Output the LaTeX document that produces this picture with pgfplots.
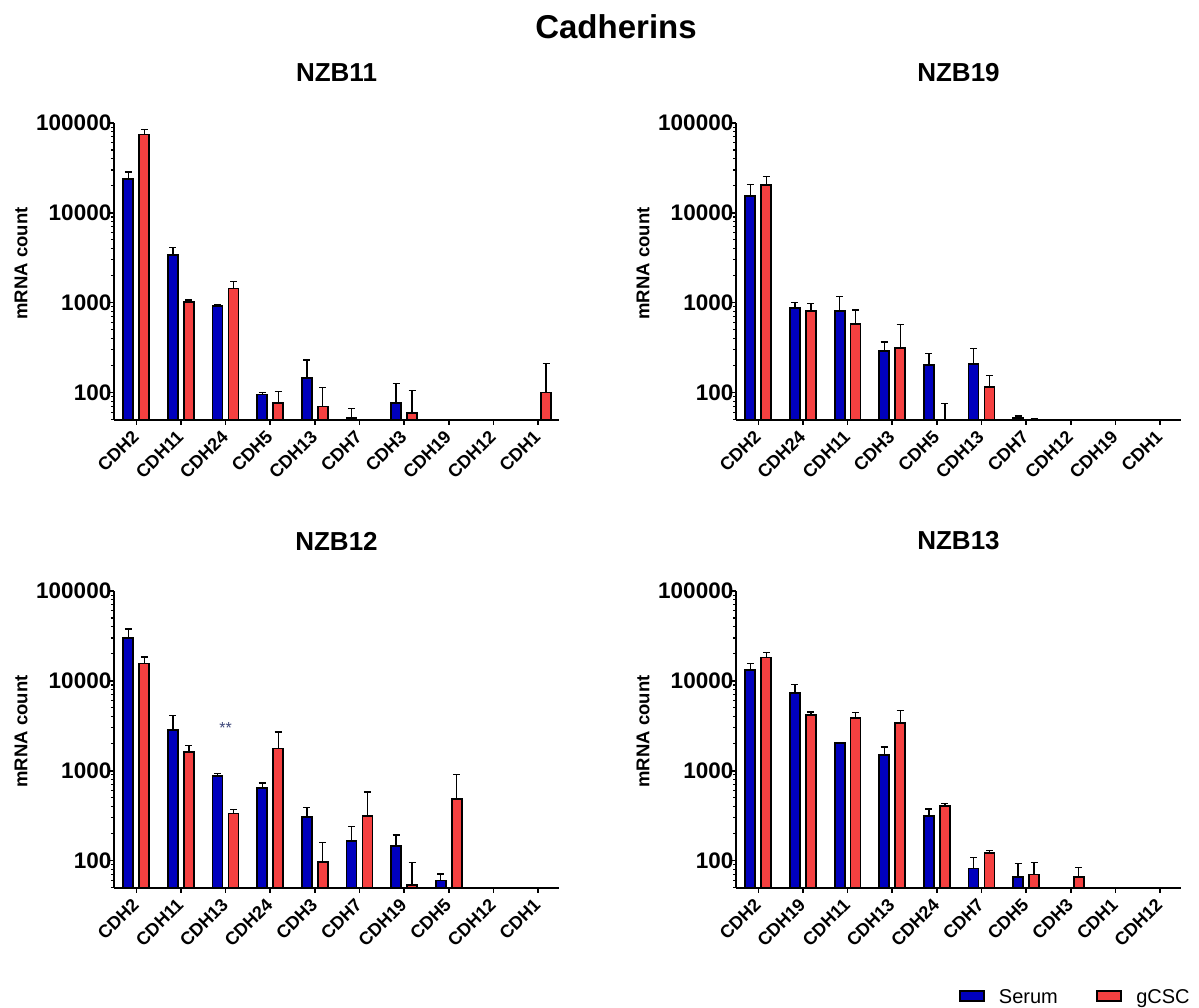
\documentclass[border=0pt]{standalone}
\usepackage{pgfplots}
\pgfplotsset{compat=1.18}
\usepackage{fontspec}
\setmainfont{Liberation Sans}
\definecolor{serum}{RGB}{0,0,190}
\definecolor{gcsc}{RGB}{245,64,64}
\definecolor{starcol}{RGB}{60,70,120}

\pgfplotsset{every axis/.append style={
    scale only axis, width=445pt, height=297pt,
    ymin=49.5, ymax=100000,
    xmin=-0.5, xmax=9.47,
    axis lines=left, axis line style={-, line width=2pt},
    xtick={0,...,9},
    ytick={100,1000,10000,100000}, yticklabels={100,1000,10000,100000},
    minor ytick={50,60,70,80,90,200,300,400,500,600,700,800,900,2000,3000,4000,5000,6000,7000,8000,9000,20000,30000,40000,50000,60000,70000,80000,90000},
    tick align=outside, major tick length=5pt, minor tick length=3pt,
    major tick style={black, line width=1.6pt},
    minor tick style={black, line width=1.1pt},
    yticklabel style={font=\fontsize{22.5}{22.5}\selectfont\bfseries, inner sep=0.5pt},
    yticklabel shift=-3pt,
    xticklabel style={font=\fontsize{18}{18}\selectfont\bfseries, rotate=45, anchor=east, inner sep=1pt},
    xticklabel shift=8pt,
    title style={font=\fontsize{26}{26}\selectfont\bfseries, at={(0.5,1)}, anchor=center, yshift=44pt},
    ylabel={mRNA count},
    ylabel style={font=\fontsize{18.5}{18.5}\selectfont\bfseries, at={(axis description cs:-0.209,0.527)}, anchor=center},
    axis on top,
}}

\begin{document}
\begin{tikzpicture}[x=1pt,y=1pt]
\useasboundingbox (0,0) rectangle (1199,1007);
\node[font=\fontsize{33}{33}\selectfont\bfseries] at (616,980) {Cadherins};

% NZB11
\begin{semilogyaxis}[at={(114pt,587pt)}, anchor=south west, title={NZB11},
  xticklabels={CDH2,CDH11,CDH24,CDH5,CDH13,CDH7,CDH3,CDH19,CDH12,CDH1}]
\addplot[ybar, bar width=10pt, bar shift=0pt, fill=serum, draw=black, line width=1.8pt,
  error bars/.cd, y dir=plus, y explicit, error bar style={black, line width=1.3pt}, error mark options={black, mark size=3.5pt, line width=1.3pt, rotate=90}]
  table[row sep=\\, x expr=\thisrow{x}-0.179, y=y, y error=e] {
x y e \\ 0 23900 4500 \\ 1 3370 710 \\ 2 918 22 \\ 3 95 5 \\ 4 144 87 \\ 5 52 14 \\ 6 77 50 \\
};
\addplot[ybar, bar width=10pt, bar shift=0pt, fill=gcsc, draw=black, line width=1.8pt,
  error bars/.cd, y dir=plus, y explicit, error bar style={black, line width=1.3pt}, error mark options={black, mark size=3.5pt, line width=1.3pt, rotate=90}]
  table[row sep=\\, x expr=\thisrow{x}+0.179, y=y, y error=e] {
x y e \\ 0 74600 10400 \\ 1 1026 44 \\ 2 1437 283 \\ 3 77 26 \\ 4 70 44 \\ 6 59 47 \\ 9 100 111 \\
};
\end{semilogyaxis}

% NZB19
\begin{semilogyaxis}[at={(736pt,587pt)}, anchor=south west, title={NZB19},
  xticklabels={CDH2,CDH24,CDH11,CDH3,CDH5,CDH13,CDH7,CDH12,CDH19,CDH1}]
\addplot[ybar, bar width=10pt, bar shift=0pt, fill=serum, draw=black, line width=1.8pt,
  error bars/.cd, y dir=plus, y explicit, error bar style={black, line width=1.3pt}, error mark options={black, mark size=3.5pt, line width=1.3pt, rotate=90}]
  table[row sep=\\, x expr=\thisrow{x}-0.179, y=y, y error=e] {
x y e \\ 0 15300 5300 \\ 1 873 127 \\ 2 801 365 \\ 3 288 77 \\ 4 201 73 \\ 5 206 105 \\ 6 52 3 \\
};
\addplot[ybar, bar width=10pt, bar shift=0pt, fill=gcsc, draw=black, line width=1.8pt,
  error bars/.cd, y dir=plus, y explicit, error bar style={black, line width=1.3pt}, error mark options={black, mark size=3.5pt, line width=1.3pt, rotate=90}]
  table[row sep=\\, x expr=\thisrow{x}+0.179, y=y, y error=e] {
x y e \\ 0 20500 5000 \\ 1 801 174 \\ 2 574 255 \\ 3 311 263 \\ 4 30 45 \\ 5 116 40 \\ 6 50 1 \\
};
\end{semilogyaxis}

% NZB12
\begin{semilogyaxis}[at={(114pt,119pt)}, anchor=south west, title={NZB12},
  xticklabels={CDH2,CDH11,CDH13,CDH24,CDH3,CDH7,CDH19,CDH5,CDH12,CDH1}]
\addplot[ybar, bar width=10pt, bar shift=0pt, fill=serum, draw=black, line width=1.8pt,
  error bars/.cd, y dir=plus, y explicit, error bar style={black, line width=1.3pt}, error mark options={black, mark size=3.5pt, line width=1.3pt, rotate=90}]
  table[row sep=\\, x expr=\thisrow{x}-0.179, y=y, y error=e] {
x y e \\ 0 29900 7800 \\ 1 2820 1280 \\ 2 865 62 \\ 3 643 87 \\ 4 307 82 \\ 5 165 73 \\ 6 144 48 \\ 7 60 11 \\
};
\addplot[ybar, bar width=10pt, bar shift=0pt, fill=gcsc, draw=black, line width=1.8pt,
  error bars/.cd, y dir=plus, y explicit, error bar style={black, line width=1.3pt}, error mark options={black, mark size=3.5pt, line width=1.3pt, rotate=90}]
  table[row sep=\\, x expr=\thisrow{x}+0.179, y=y, y error=e] {
x y e \\ 0 15600 2800 \\ 1 1609 298 \\ 2 334 33 \\ 3 1767 933 \\ 4 96 64 \\ 5 312 269 \\ 6 54 41 \\ 7 486 417 \\
};
\node[font=\fontsize{16}{16}\selectfont, text=starcol] at (axis cs:2,2970) {**};
\end{semilogyaxis}

% NZB13
\begin{semilogyaxis}[at={(736pt,119pt)}, anchor=south west, title={NZB13},
  xticklabels={CDH2,CDH19,CDH11,CDH13,CDH24,CDH7,CDH5,CDH3,CDH1,CDH12},
  legend style={at={(axis description cs:0.762,-0.367)}, anchor=center, draw=none, fill=none,
    legend columns=2, font=\fontsize{20}{20}\selectfont,
    /tikz/every even column/.append style={column sep=36pt}}]
\addlegendimage{legend image code/.code={\draw[fill=serum,draw=black,line width=2.5pt] (0pt,-4pt) rectangle (24pt,6pt); \path (37pt,0pt);}}
\addlegendentry{Serum}
\addlegendimage{legend image code/.code={\draw[fill=gcsc,draw=black,line width=2.5pt] (0pt,-4pt) rectangle (24pt,6pt); \path (37pt,0pt);}}
\addlegendentry{gCSC}
\addplot[ybar, bar width=10pt, bar shift=0pt, fill=serum, draw=black, line width=1.8pt,
  error bars/.cd, y dir=plus, y explicit, error bar style={black, line width=1.3pt}, error mark options={black, mark size=3.5pt, line width=1.3pt, rotate=90}]
  table[row sep=\\, x expr=\thisrow{x}-0.179, y=y, y error=e] {
x y e \\ 0 13250 2450 \\ 1 7360 1670 \\ 2 2050 20 \\ 3 1493 340 \\ 4 316 59 \\ 5 81.5 27.5 \\ 6 65 27 \\
};
\addplot[ybar, bar width=10pt, bar shift=0pt, fill=gcsc, draw=black, line width=1.8pt,
  error bars/.cd, y dir=plus, y explicit, error bar style={black, line width=1.3pt}, error mark options={black, mark size=3.5pt, line width=1.3pt, rotate=90}]
  table[row sep=\\, x expr=\thisrow{x}+0.179, y=y, y error=e] {
x y e \\ 0 18200 2400 \\ 1 4190 300 \\ 2 3880 570 \\ 3 3410 1230 \\ 4 408 22 \\ 5 122 8 \\ 6 70 26 \\ 7 65 19 \\
};
\end{semilogyaxis}
\end{tikzpicture}
\end{document}
